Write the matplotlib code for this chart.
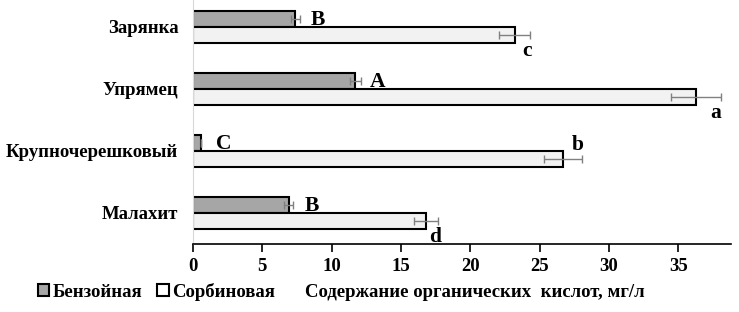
import numpy as np
import matplotlib.pyplot as plt
from matplotlib.patches import Patch

plt.rcParams['font.family'] = ['Liberation Serif', 'DejaVu Serif']
plt.rcParams['font.weight'] = 'bold'

# данные (снизу вверх)
sorts = ['Малахит', 'Крупночерешковый', 'Упрямец', 'Зарянка']
benz = [6.9, 0.6, 11.7, 7.4]
benz_err = [0.3, 0.0, 0.4, 0.3]
sorb = [16.8, 26.7, 36.3, 23.2]
sorb_err = [0.85, 1.35, 1.8, 1.1]
benz_letters = ['B', 'C', 'A', 'B']
sorb_letters = ['d', 'b', 'a', 'c']

fig = plt.figure(figsize=(7.39, 3.12), dpi=100)
ax = fig.add_axes([0.261, 0.218, 0.728, 0.782])

y = np.arange(len(sorts))
h = 0.26
ax.barh(y + h / 2, benz, height=h, color='#a6a6a6', edgecolor='black', linewidth=1.5)
ax.barh(y - h / 2, sorb, height=h, color='#f2f2f2', edgecolor='black', linewidth=1.5)
ax.errorbar(benz, y + h / 2, xerr=benz_err, fmt='none', ecolor='#808080', elinewidth=1, capsize=3)
ax.errorbar(sorb, y - h / 2, xerr=sorb_err, fmt='none', ecolor='#808080', elinewidth=1, capsize=3)

# буквы значимости
for i in range(len(sorts)):
    ax.text(benz[i] + 1.65, y[i] + h / 2 - 0.02, benz_letters[i],
            fontsize=15.5, ha='center', va='center')
    if sorb_letters[i] == 'b':
        ax.text(sorb[i] + 0.6, y[i] + 0.1, sorb_letters[i],
                fontsize=15.5, ha='left', va='center')
    else:
        ax.text(sorb[i] + 0.8 * sorb_err[i], y[i] - h - 0.13, sorb_letters[i],
                fontsize=15.5, ha='center', va='center')

ax.set_xlim(0, 38.8)
ax.set_ylim(-0.5, 3.435)
ax.set_yticks(y)
ax.set_yticklabels(sorts, fontsize=13.5)
ax.set_xticks(np.arange(0, 40, 5))
ax.tick_params(axis='x', labelsize=13.5, length=6, width=1.2, direction='out', pad=4)
ax.tick_params(axis='y', length=0, pad=10.5)

for s in ['top', 'right']:
    ax.spines[s].set_visible(False)
ax.spines['left'].set_color('#d8d8d8')
ax.spines['bottom'].set_linewidth(1.2)

fig.text(0.413, 0.064, 'Содержание органических  кислот, мг/л', fontsize=13.5, va='center')

handles = [Patch(facecolor='#a6a6a6', edgecolor='black', linewidth=1.5),
           Patch(facecolor='white', edgecolor='black', linewidth=1.5)]
fig.legend(handles, ['Бензойная', 'Сорбиновая'], loc='center left',
           bbox_to_anchor=(0.051, 0.064), ncol=2, frameon=False, fontsize=13.5,
           handlelength=0.6, handleheight=0.6, handletextpad=0.2, columnspacing=0.8,
           borderaxespad=0, borderpad=0)

fig.savefig('out.png', dpi=100)
